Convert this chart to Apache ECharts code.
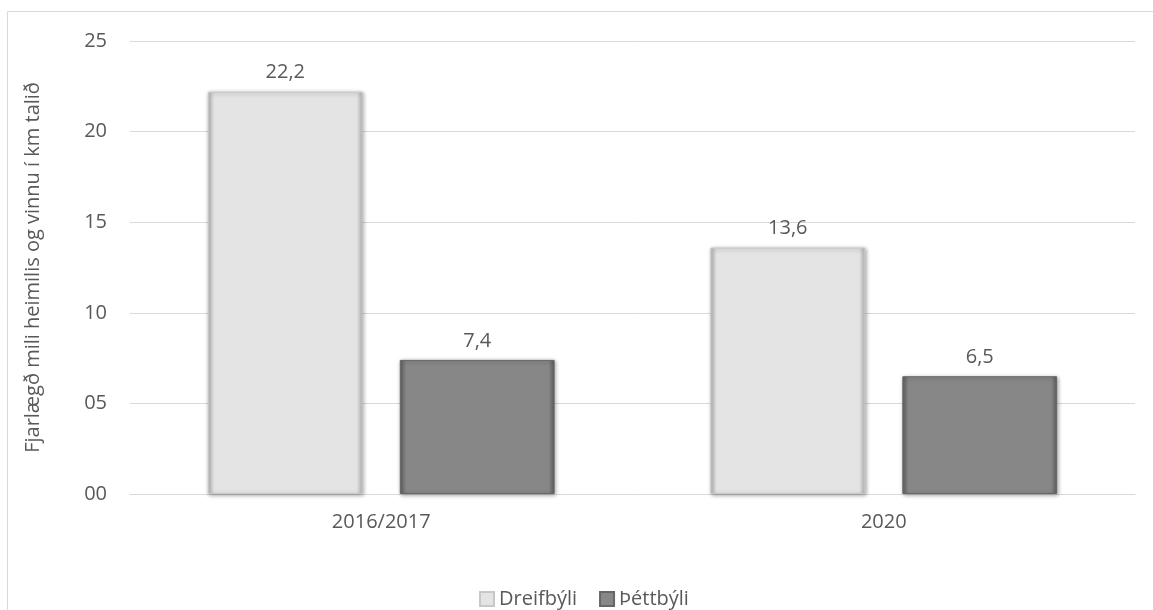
<!DOCTYPE html>
<html>
<head>
<meta charset="utf-8">
<script src="https://cdn.jsdelivr.net/npm/echarts@6/dist/echarts.min.js"></script>
<style>
  html, body { margin: 0; padding: 0; background: #fff; }
  #chart { width: 1153px; height: 610px; }
</style>
</head>
<body>
<div id="chart"></div>
<script>
  // values
  const categories = ['2016/2017', '2020'];
  const dreifbyli = [22.2, 13.6];
  const thettbyli = [7.4, 6.5];
  const yTicks = ['00', '05', '10', '15', '20', '25'];

  const textColor = '#595959';
  const font = '"Open Sans", "Noto Sans", sans-serif';

  function bevel(edge, face) {
    return new echarts.graphic.LinearGradient(0, 0, 1, 0, [
      { offset: 0, color: edge },
      { offset: 0.04, color: face },
      { offset: 0.96, color: face },
      { offset: 1, color: edge },
    ]);
  }

  const label = {
    show: true,
    position: 'top',
    distance: 9,
    color: textColor,
    fontFamily: font,
    fontSize: 20,
    formatter: (p) => String(p.value).replace('.', ','),
  };

  const chart = echarts.init(document.getElementById('chart'));

  chart.setOption({
    animation: false,
    textStyle: { fontFamily: font },
    graphic: [
      {
        type: 'rect',
        shape: { x: 7.5, y: 11.5, width: 1200, height: 700 },
        style: { fill: 'none', stroke: '#d9d9d9', lineWidth: 1 },
        silent: true,
      },
    ],
    grid: { left: 130, right: 18, top: 41, bottom: 116 },
    legend: {
      left: 474,
      top: 584,
      itemWidth: 14,
      itemHeight: 14,
      itemGap: 22,
      icon: 'rect',
      textStyle: { color: textColor, fontSize: 20, fontFamily: font },
      data: ['Dreifbýli', 'Þéttbýli'],
    },
    xAxis: {
      type: 'category',
      data: categories,
      axisLine: { lineStyle: { color: '#d9d9d9', width: 1 } },
      axisTick: { show: false },
      axisLabel: { color: textColor, fontSize: 20, fontFamily: font, margin: 18 },
    },
    yAxis: {
      type: 'value',
      min: 0,
      max: 25,
      interval: 5,
      name: 'Fjarlægð mili heimilis og vinnu í km talið',
      nameLocation: 'middle',
      nameGap: 87,
      nameTextStyle: { color: textColor, fontSize: 20, fontFamily: font },
      axisLine: { show: false },
      axisTick: { show: false },
      splitLine: { lineStyle: { color: '#d9d9d9', width: 1 } },
      axisLabel: {
        color: textColor,
        fontSize: 20,
        fontFamily: font,
        margin: 23,
        formatter: (v) => yTicks[v / 5],
      },
    },
    series: [
      {
        name: 'Dreifbýli',
        type: 'bar',
        data: dreifbyli,
        barGap: '24%',
        barCategoryGap: '31%',
        itemStyle: {
          color: bevel('#b3b3b3', '#e4e4e4'),
          borderColor: '#c8c8c8',
          borderWidth: 1,
          shadowColor: 'rgba(0,0,0,0.35)',
          shadowBlur: 4,
          shadowOffsetX: 1,
          shadowOffsetY: 1,
        },
        label,
      },
      {
        name: 'Þéttbýli',
        type: 'bar',
        data: thettbyli,
        itemStyle: {
          color: bevel('#5e5e5e', '#878787'),
          borderColor: '#666666',
          borderWidth: 1,
          shadowColor: 'rgba(0,0,0,0.35)',
          shadowBlur: 4,
          shadowOffsetX: 1,
          shadowOffsetY: 1,
        },
        label,
      },
    ],
  });
</script>
</body>
</html>
